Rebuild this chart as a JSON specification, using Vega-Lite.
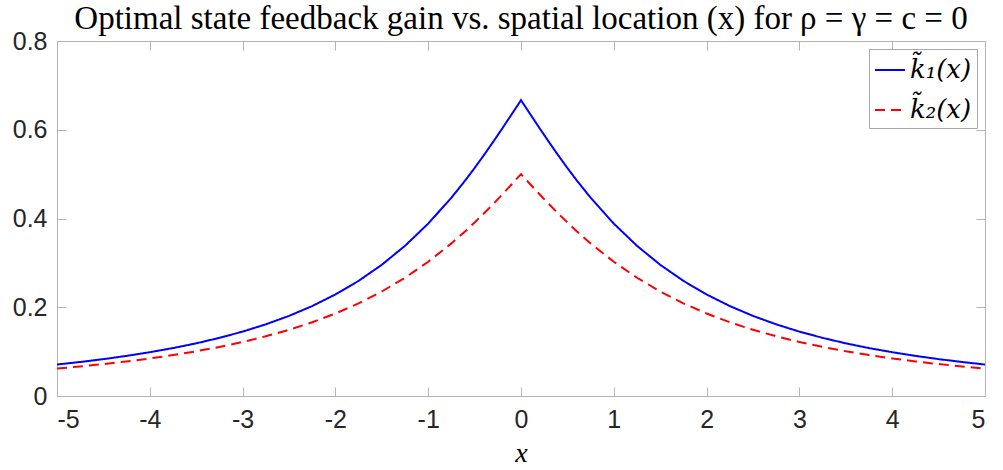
{
  "$schema": "https://vega.github.io/schema/vega-lite/v6.json",
  "width": 928,
  "height": 355,
  "autosize": {"type": "none"},
  "padding": {"left": 57, "top": 41, "right": 18, "bottom": 74},
  "background": "white",
  "config": {
    "view": {"stroke": "#b4b4b4", "strokeWidth": 1},
    "axis": {
      "grid": false,
      "domain": false,
      "tickColor": "#b4b4b4",
      "tickSize": -9,
      "tickWidth": 1,
      "labelFont": "Liberation Sans",
      "labelFontSize": 25,
      "labelColor": "#262626",
      "titleFont": "Liberation Serif",
      "titleFontStyle": "italic",
      "titleFontWeight": "normal",
      "titleFontSize": 28,
      "titleColor": "#000000"
    },
    "legend": {
      "orient": "top-right",
      "offset": 8,
      "strokeColor": "#a8a8a8",
      "fillColor": "white",
      "padding": 5,
      "cornerRadius": 0,
      "labelFont": "DejaVu Serif",
      "labelFontSize": 26,
      "labelFontStyle": "italic",
      "labelColor": "#000000",
      "labelOffset": 4,
      "symbolType": "stroke",
      "symbolSize": 900,
      "symbolStrokeWidth": 2,
      "rowPadding": 11
    }
  },
  "title": {
    "text": "Optimal state feedback gain vs. spatial location (x) for ρ = γ = c = 0",
    "font": "Liberation Serif",
    "fontSize": 33,
    "fontWeight": "normal",
    "color": "#000000",
    "anchor": "middle",
    "offset": -7
  },
  "data": {
    "values": [
      {"x": -5, "k1": 0.0709, "k2": 0.0618},
      {"x": -4.75, "k1": 0.0767, "k2": 0.0666},
      {"x": -4.5, "k1": 0.0831, "k2": 0.0719},
      {"x": -4.25, "k1": 0.0904, "k2": 0.0779},
      {"x": -4, "k1": 0.0987, "k2": 0.0846},
      {"x": -3.75, "k1": 0.108, "k2": 0.0922},
      {"x": -3.5, "k1": 0.1187, "k2": 0.1008},
      {"x": -3.25, "k1": 0.131, "k2": 0.1106},
      {"x": -3, "k1": 0.1451, "k2": 0.1217},
      {"x": -2.75, "k1": 0.1615, "k2": 0.1345},
      {"x": -2.5, "k1": 0.1805, "k2": 0.1492},
      {"x": -2.25, "k1": 0.2027, "k2": 0.1662},
      {"x": -2, "k1": 0.2288, "k2": 0.1859},
      {"x": -1.75, "k1": 0.2595, "k2": 0.2088},
      {"x": -1.5, "k1": 0.2957, "k2": 0.2355},
      {"x": -1.25, "k1": 0.3384, "k2": 0.2665},
      {"x": -1, "k1": 0.3885, "k2": 0.3025},
      {"x": -0.75, "k1": 0.4469, "k2": 0.3439},
      {"x": -0.6, "k1": 0.486, "k2": 0.3715},
      {"x": -0.5, "k1": 0.5138, "k2": 0.391},
      {"x": -0.4, "k1": 0.5427, "k2": 0.4114},
      {"x": -0.3, "k1": 0.5727, "k2": 0.4326},
      {"x": -0.2, "k1": 0.6035, "k2": 0.4546},
      {"x": -0.1, "k1": 0.635, "k2": 0.4771},
      {"x": 0, "k1": 0.6667, "k2": 0.5},
      {"x": 0.1, "k1": 0.635, "k2": 0.4771},
      {"x": 0.2, "k1": 0.6035, "k2": 0.4546},
      {"x": 0.3, "k1": 0.5727, "k2": 0.4326},
      {"x": 0.4, "k1": 0.5427, "k2": 0.4114},
      {"x": 0.5, "k1": 0.5138, "k2": 0.391},
      {"x": 0.6, "k1": 0.486, "k2": 0.3715},
      {"x": 0.75, "k1": 0.4469, "k2": 0.3439},
      {"x": 1, "k1": 0.3885, "k2": 0.3025},
      {"x": 1.25, "k1": 0.3384, "k2": 0.2665},
      {"x": 1.5, "k1": 0.2957, "k2": 0.2355},
      {"x": 1.75, "k1": 0.2595, "k2": 0.2088},
      {"x": 2, "k1": 0.2288, "k2": 0.1859},
      {"x": 2.25, "k1": 0.2027, "k2": 0.1662},
      {"x": 2.5, "k1": 0.1805, "k2": 0.1492},
      {"x": 2.75, "k1": 0.1615, "k2": 0.1345},
      {"x": 3, "k1": 0.1451, "k2": 0.1217},
      {"x": 3.25, "k1": 0.131, "k2": 0.1106},
      {"x": 3.5, "k1": 0.1187, "k2": 0.1008},
      {"x": 3.75, "k1": 0.108, "k2": 0.0922},
      {"x": 4, "k1": 0.0987, "k2": 0.0846},
      {"x": 4.25, "k1": 0.0904, "k2": 0.0779},
      {"x": 4.5, "k1": 0.0831, "k2": 0.0719},
      {"x": 4.75, "k1": 0.0767, "k2": 0.0666},
      {"x": 5, "k1": 0.0709, "k2": 0.0618}
    ]
  },
  "transform": [{"fold": ["k1", "k2"], "as": ["series", "k"]}],
  "layer": [
    {
      "mark": {"type": "line", "strokeWidth": 2, "clip": true},
      "encoding": {
        "x": {
          "field": "x",
          "type": "quantitative",
          "scale": {"domain": [-5, 5], "nice": false, "zero": false},
          "axis": {
            "orient": "bottom",
            "values": [-5, -4, -3, -2, -1, 0, 1, 2, 3, 4, 5],
            "labelExpr": "'' + datum.value",
            "labelPadding": 20,
            "title": "x",
            "titlePadding": 7
          }
        },
        "y": {
          "field": "k",
          "type": "quantitative",
          "scale": {"domain": [0, 0.8], "nice": false},
          "axis": {
            "orient": "left",
            "values": [0, 0.2, 0.4, 0.6, 0.8],
            "labelExpr": "'' + datum.value",
            "labelPadding": 19,
            "title": null
          }
        },
        "color": {
          "field": "series",
          "type": "nominal",
          "scale": {"domain": ["k1", "k2"], "range": ["#0000ff", "#ff0000"]},
          "legend": {"title": null, "labelExpr": "datum.value == 'k1' ? 'k̃₁(x)' : 'k̃₂(x)'"}
        },
        "strokeDash": {
          "field": "series",
          "type": "nominal",
          "scale": {"domain": ["k1", "k2"], "range": [[1, 0], [10, 6]]},
          "legend": {"title": null, "labelExpr": "datum.value == 'k1' ? 'k̃₁(x)' : 'k̃₂(x)'"}
        }
      }
    },
    {
      "mark": {"type": "line", "opacity": 0},
      "encoding": {
        "x": {
          "field": "x",
          "type": "quantitative",
          "axis": {"orient": "top", "values": [-5, -4, -3, -2, -1, 0, 1, 2, 3, 4, 5], "labels": false, "title": null}
        },
        "y": {
          "field": "k",
          "type": "quantitative",
          "axis": {"orient": "right", "values": [0, 0.2, 0.4, 0.6, 0.8], "labels": false, "title": null}
        },
        "detail": {"field": "series", "type": "nominal"}
      }
    }
  ]
}
